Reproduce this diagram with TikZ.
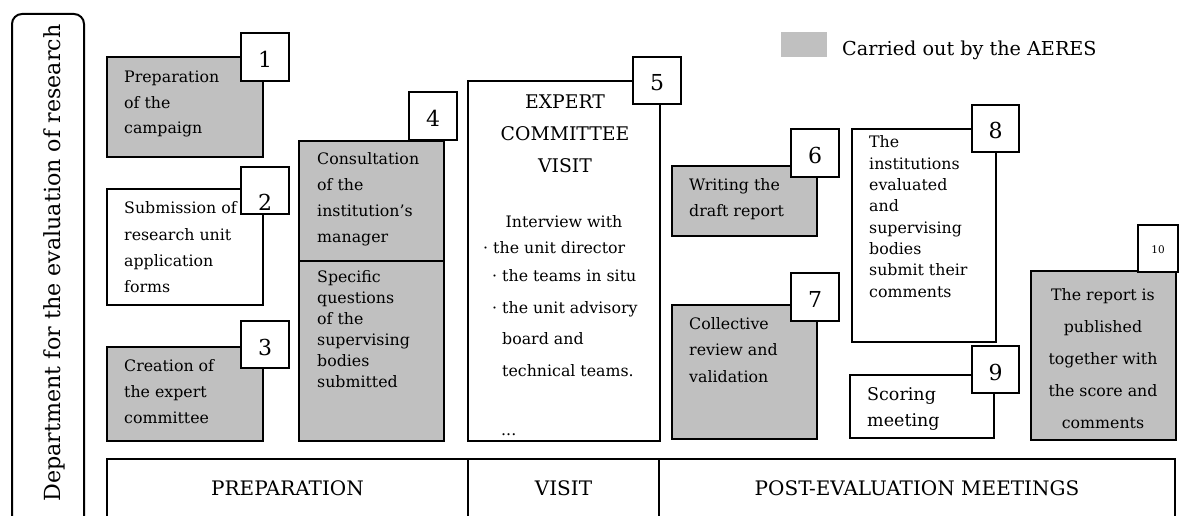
\documentclass[tikz,border=0pt]{standalone}
\usepackage{fontspec}
\setmainfont{DejaVu Serif}
\definecolor{shade}{HTML}{C0C0C0}
\tikzset{
  frame/.style={draw, line width=2pt, inner sep=0pt, outer sep=0pt, anchor=north west},
  gbox/.style={frame, fill=shade},
  wbox/.style={frame, fill=white},
  body/.style={font=\fontsize{15.8}{18}\selectfont, inner sep=0pt},
  title/.style={font=\fontsize{18.8}{20}\selectfont, inner sep=0pt},
  numf/.style={font=\fontsize{22}{22}\selectfont},
}
\newcommand\mybox[6]{\node[#2, minimum width={(#5-#3)*1pt}, minimum height={(#6-#4)*1pt}] (#1) at (#3,#4) {};}
\newcommand\numbox[7][21]{\node[wbox, numf, minimum width={(#5-#3)*1pt}, minimum height={(#6-#4)*1pt}, text height=#1pt, text depth=0pt] (#2) at (#3,#4) {#7};}
\newcommand\txtlines[6]{\foreach \l [count=\i] in {#6} {\node[anchor=base west, #2] (#1-\i) at (#3, {#4+(\i-1)*#5}) {\l};}}
\begin{document}
\begin{tikzpicture}[x=1pt,y=-1pt]
\useasboundingbox (0,0) rectangle (1179,516);
% left frame
\node[frame, rounded corners=10pt, minimum width=72pt, minimum height=520pt] (dept) at (12,14) {};
\node[rotate=90, anchor=base, inner sep=0pt, font=\fontsize{22.2}{24}\selectfont] (deptt) at (60,263) {Department for the evaluation of research};
% legend
\node[fill=shade, anchor=north west, inner sep=0pt, minimum width=46pt, minimum height=25pt] (leg) at (781,32) {};
\node[anchor=base west, inner sep=0pt, font=\fontsize{19.2}{20}\selectfont] (legt) at (842,56) {Carried out by the AERES};
% box 1
\mybox{b1}{gbox}{107}{57}{263}{157}
\txtlines{t1}{body}{124}{83}{25.5}{Preparation,of the,campaign}
\numbox{n1}{241}{33}{289}{81}{1}
% box 2
\mybox{b2}{wbox}{107}{189}{263}{305}
\txtlines{t2}{body}{124}{214}{26.3}{Submission of,research unit,application,forms}
\numbox[41]{n2}{241}{167}{289}{214}{2}
% box 3
\mybox{b3}{gbox}{107}{347}{263}{441}
\txtlines{t3}{body}{124}{371}{26}{Creation of,the expert,committee}
\numbox{n3}{241}{321}{289}{368}{3}
% box 4
\mybox{b4a}{gbox}{299}{141}{444}{261}
\mybox{b4b}{gbox}{299}{261}{444}{441}
\txtlines{t4a}{body}{317}{165}{26}{Consultation,of the,institution’s,manager}
\txtlines{t4b}{body}{317}{282}{21}{Specific,questions,of the,supervising,bodies,submitted}
\numbox{n4}{409}{92}{457}{140}{4}
% box 5
\mybox{b5}{wbox}{468}{81}{660}{441}
\txtlines{t5}{title, anchor=base}{565}{109}{32}{EXPERT,COMMITTEE,VISIT}
\node[body, anchor=base] (i1) at (564,228) {Interview with};
\node[body, anchor=base west] (i2) at (483,253) {· the unit director};
\node[body, anchor=base west] (i3) at (492,281) {· the teams in situ};
\node[body, anchor=base west] (i4) at (492,313) {· the unit advisory};
\node[body, anchor=base west] (i5) at (502,344) {board and};
\node[body, anchor=base west] (i6) at (502,376) {technical teams.};
\node[body, anchor=base west] (i7) at (501,435) {...};
\numbox{n5}{633}{57}{681}{104}{5}
% box 6
\mybox{b6}{gbox}{672}{166}{817}{236}
\txtlines{t6}{body}{689}{191}{26}{Writing the,draft report}
\numbox{n6}{791}{129}{839}{177}{6}
% box 7
\mybox{b7}{gbox}{672}{305}{817}{439}
\txtlines{t7}{body}{689}{329}{26.5}{Collective,review and,validation}
\numbox{n7}{791}{273}{839}{321}{7}
% box 8
\mybox{b8}{wbox}{852}{129}{996}{342}
\txtlines{t8}{body}{869}{148}{21.3}{The,institutions,evaluated,and,supervising,bodies,submit their,comments}
\numbox{n8}{972}{105}{1019}{152}{8}
% box 9
\mybox{b9}{wbox}{850}{375}{994}{438}
\txtlines{t9}{body, font=\fontsize{17.5}{18}\selectfont}{867}{400}{26}{Scoring,meeting}
\numbox{n9}{972}{346}{1019}{393}{9}
% box 10
\mybox{b10}{gbox}{1031}{271}{1176}{440}
\txtlines{t10}{body, anchor=base}{1103}{300}{32}{The report is,published,together with,the score and,comments}
\numbox[9]{n10}{1138}{225}{1178}{272}{\fontsize{10.5}{10.5}\selectfont 10}
% bottom bar
\mybox{c1}{frame}{107}{459}{468}{530}
\mybox{c2}{frame}{468}{459}{659}{530}
\mybox{c3}{frame}{659}{459}{1175}{530}
\node[anchor=base, inner sep=0pt, font=\fontsize{20}{20}\selectfont] (c1t) at (287.5,495) {PREPARATION};
\node[anchor=base, inner sep=0pt, font=\fontsize{20}{20}\selectfont] (c2t) at (563.5,495) {VISIT};
\node[anchor=base, inner sep=0pt, font=\fontsize{20}{20}\selectfont] (c3t) at (917,495) {POST-EVALUATION MEETINGS};
\end{tikzpicture}
\end{document}
